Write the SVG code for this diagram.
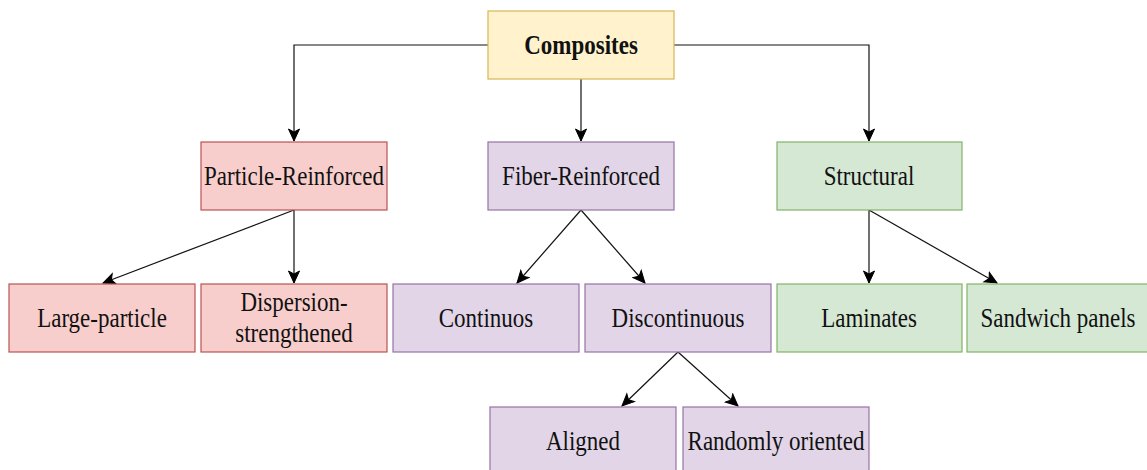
<svg xmlns="http://www.w3.org/2000/svg" width="1147" height="470" viewBox="0 0 1147 470">
<defs>
<style>
text{font-family:"Liberation Serif","Times New Roman",serif;font-size:23px;fill:#111;text-anchor:middle;dominant-baseline:central}
.b{font-weight:bold}
.y{fill:#fff2cc;stroke:#d6b656;stroke-width:1.2}
.r{fill:#f8cecc;stroke:#b85450;stroke-width:1.2}
.p{fill:#e1d5e7;stroke:#9673a6;stroke-width:1.2}
.g{fill:#d5e8d4;stroke:#82b366;stroke-width:1.2}
.c{fill:none;stroke:#111;stroke-width:1.2;marker-end:url(#ah)}
</style>
<marker id="ah" markerUnits="userSpaceOnUse" markerWidth="14" markerHeight="14" viewBox="0 0 14 14" refX="13" refY="7" orient="auto">
<path d="M1,1.5 L13,7 L1,12.5 L4,7 z" fill="#000" stroke="#000" stroke-width="1"/>
</marker>
</defs>
<rect width="1147" height="470" fill="#fff"/>
<g id="connectors">
<path class="c" d="M488,45 H294 V141"/>
<path class="c" d="M581,79 V141"/>
<path class="c" d="M674,45 H869 V141"/>
<path class="c" d="M294,210 L103,283"/>
<path class="c" d="M294,210 V283"/>
<path class="c" d="M581,210 L517,283"/>
<path class="c" d="M581,210 L645,283"/>
<path class="c" d="M869,210 V283"/>
<path class="c" d="M869,210 L997,283"/>
<path class="c" d="M678,352 L622,406"/>
<path class="c" d="M678,352 L738,406"/>
</g>
<g id="composites"><rect class="y" x="488" y="11" width="186" height="68"/><text class="b" transform="translate(581,45) scale(1,1.15)">Composites</text></g>
<g id="particle"><rect class="r" x="201" y="142" width="186" height="68"/><text transform="translate(294,176) scale(1,1.15)">Particle-Reinforced</text></g>
<g id="fiber"><rect class="p" x="488" y="142" width="186" height="68"/><text transform="translate(581,176) scale(1,1.15)">Fiber-Reinforced</text></g>
<g id="structural"><rect class="g" x="777" y="142" width="185" height="68"/><text transform="translate(869,176) scale(1,1.15)">Structural</text></g>
<g id="large"><rect class="r" x="9" y="284" width="186" height="68"/><text transform="translate(102,318) scale(1,1.15)">Large-particle</text></g>
<g id="dispersion"><rect class="r" x="201" y="284" width="186" height="68"/><text transform="translate(294,302) scale(1,1.15)">Dispersion-</text><text transform="translate(294,333) scale(1,1.15)">strengthened</text></g>
<g id="continuos"><rect class="p" x="393" y="284" width="186" height="68"/><text transform="translate(486,318) scale(1,1.15)">Continuos</text></g>
<g id="discontinuous"><rect class="p" x="585" y="284" width="186" height="68"/><text transform="translate(678,318) scale(1,1.15)">Discontinuous</text></g>
<g id="laminates"><rect class="g" x="777" y="284" width="185" height="68"/><text transform="translate(869,318) scale(1,1.15)">Laminates</text></g>
<g id="sandwich"><rect class="g" x="967" y="284" width="185" height="68"/><text transform="translate(1058,318) scale(1,1.15)">Sandwich panels</text></g>
<g id="aligned"><rect class="p" x="490" y="407" width="186" height="68"/><text transform="translate(583,441) scale(1,1.15)">Aligned</text></g>
<g id="randomly"><rect class="p" x="683" y="407" width="186" height="68"/><text transform="translate(776,441) scale(1,1.15)">Randomly oriented</text></g>
</svg>
